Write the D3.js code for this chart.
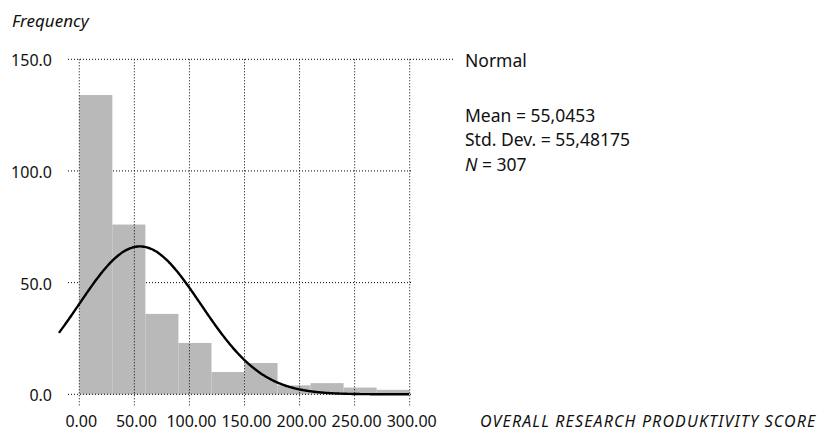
<!DOCTYPE html>
<html>
<head>
<meta charset="utf-8">
<script src="https://cdn.jsdelivr.net/npm/d3@7"></script>
<style>
  body { margin: 0; background: #fff; }
  text { font-family: "Noto Sans", sans-serif; fill: #111; }
</style>
</head>
<body>
<div id="chart_area"></div>
<script>
// Histogram bins (lower edge) and counts
var binStarts = [0, 30, 60, 90, 120, 150, 180, 210, 240, 270];
var binWidth = 30;
var counts = [134, 76, 36, 23, 10, 14, 4, 5, 3, 2];

// Ticks
var xTicks = [0, 50, 100, 150, 200, 250, 300];
var yTicks = [0, 50, 100, 150];

// Stats of the fitted normal curve
var mean = 55.0453;
var stdDev = 55.48175;
var n = 307;
var statLines = ["Mean = 55,0453", "Std. Dev. = 55,48175", "N = 307"];

var frame = d3.select("#chart_area").append("svg")
    .attr("width", 817)
    .attr("height", 432);

var xScale = d3.scaleLinear().domain([0, 300]).range([79.3, 409.7]);
var yScale = d3.scaleLinear().domain([0, 150]).range([394.3, 59.3]);

var dots = "1,2";

// horizontal grid (under the bars)
frame.append("g").selectAll("line")
    .data(yTicks.filter(function(d) { return d > 0; }))
    .enter().append("line")
    .attr("x1", 68)
    .attr("x2", function(d) { return d === 150 ? 455 : xScale(300) + 2; })
    .attr("y1", function(d) { return yScale(d); })
    .attr("y2", function(d) { return yScale(d); })
    .attr("stroke", "#000")
    .attr("stroke-width", 1)
    .attr("stroke-dasharray", dots);

// bars
frame.append("g").selectAll("rect")
    .data(counts)
    .enter().append("rect")
    .attr("x", function(d, i) { return xScale(binStarts[i]); })
    .attr("width", function(d, i) { return xScale(binStarts[i] + binWidth) - xScale(binStarts[i]); })
    .attr("y", function(d) { return yScale(d); })
    .attr("height", function(d) { return yScale(0) - yScale(d); })
    .attr("fill", "#b9b9b9");

// vertical grid + zero line (on top)
frame.append("g").selectAll("line")
    .data(xTicks)
    .enter().append("line")
    .attr("x1", function(d) { return xScale(d); })
    .attr("x2", function(d) { return xScale(d); })
    .attr("y1", yScale(150))
    .attr("y2", yScale(0) + 11)
    .attr("stroke", "#000")
    .attr("stroke-width", 1)
    .attr("stroke-dasharray", dots);

frame.append("line")
    .attr("x1", 68).attr("x2", xScale(300) + 2)
    .attr("y1", yScale(0)).attr("y2", yScale(0))
    .attr("stroke", "#000")
    .attr("stroke-dasharray", dots);

// normal curve from the stats
var curveX = d3.range(-18.5, 300.01, 1);
var scaleN = n * binWidth / (stdDev * Math.sqrt(2 * Math.PI));
var line = d3.line()
    .x(function(d) { return xScale(d); })
    .y(function(d) { var z = (d - mean) / stdDev; return yScale(scaleN * Math.exp(-0.5 * z * z)); })
    .curve(d3.curveBasis);

frame.append("path")
    .datum(curveX)
    .attr("d", line)
    .attr("fill", "none")
    .attr("stroke", "#000")
    .attr("stroke-width", 2.4);

// y tick labels
frame.append("g").selectAll("text")
    .data(yTicks)
    .enter().append("text")
    .attr("x", 52)
    .attr("y", function(d) { return yScale(d) + 7; })
    .attr("text-anchor", "end")
    .style("font-size", "16px")
    .text(function(d) { return d3.format(".1f")(d); });

// x tick labels
frame.append("g").selectAll("text")
    .data(xTicks)
    .enter().append("text")
    .attr("x", function(d) { return xScale(d) + 2; })
    .attr("y", 427)
    .attr("text-anchor", "middle")
    .style("font-size", "16px")
    .text(function(d) { return d3.format(".2f")(d); });

// axis titles
frame.append("text")
    .attr("x", 12).attr("y", 27)
    .style("font-size", "17px")
    .style("font-style", "italic")
    .text("Frequency");

frame.append("text")
    .attr("x", 480).attr("y", 427)
    .style("font-size", "16px")
    .style("font-style", "italic")
    .style("letter-spacing", "1.15px")
    .text("OVERALL RESEARCH PRODUKTIVITY SCORE");

// legend / stats
frame.append("text")
    .attr("x", 465).attr("y", 67)
    .style("font-size", "17.5px")
    .text("Normal");

var stats = frame.append("g");
statLines.forEach(function(s, i) {
    var t = stats.append("text")
        .attr("x", 465)
        .attr("y", 122 + i * 24.4)
        .style("font-size", "17.5px");
    if (s.indexOf("N =") === 0) {
        t.append("tspan").style("font-style", "italic").text("N");
        t.append("tspan").text(s.slice(1));
    } else {
        t.text(s);
    }
});
</script>
</body>
</html>
